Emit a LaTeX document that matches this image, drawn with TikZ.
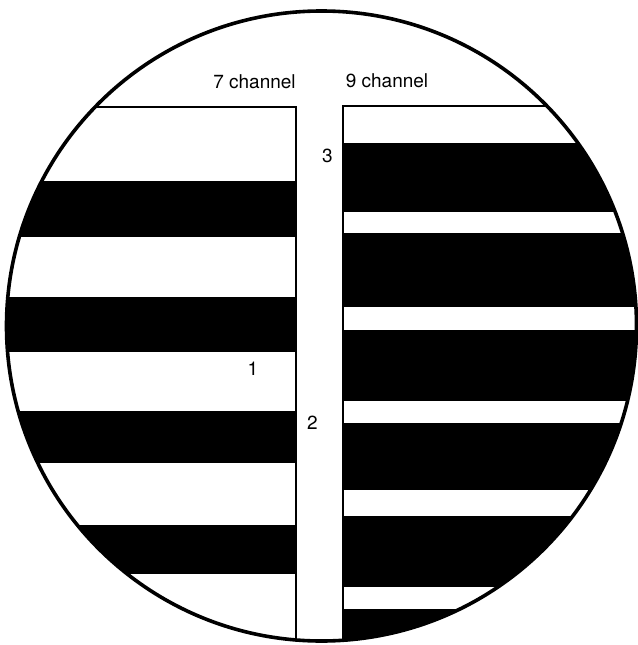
\documentclass[tikz,border=0pt]{standalone}
\usepackage{fontspec}
\setmainfont{TeX Gyre Heros}

\begin{document}
\begin{tikzpicture}[x=1pt, y=-1pt,
      rim/.style={line width=3.6pt},
      edge/.style={line width=2.4pt},
      lab/.style={font=\fontsize{19}{22}\selectfont, anchor=base, inner sep=0pt}
    ]
    \useasboundingbox (0,0) rectangle (637,645);
    \coordinate (O) at (321.5,326);
    \begin{scope}
      \clip (O) circle[radius=315pt];
      % 7 channel side
      \foreach \a/\b in {181/237, 297/352, 411/463, 525/574}
        \fill (0,\a) rectangle (296,\b);
      \draw[edge] (0,107) -- (296,107) -- (296,660);
      % 9 channel side
      \fill (343,143) rectangle (640,660);
      \foreach \a/\b in {212/233, 307/330, 401/423, 490/516, 587/609}
        \fill[white] (343,\a) rectangle (640,\b);
      \draw[edge] (343,660) -- (343,106) -- (640,106);
    \end{scope}
    \draw[rim] (O) circle[radius=315pt];
    \node[lab] (lab7) at (254.5,88) {7 channel};
    \node[lab] (lab9) at (387,87) {9 channel};
    \node[lab] (n1) at (253,375) {1};
    \node[lab] (n2) at (312.5,429) {2};
    \node[lab] (n3) at (327.5,162) {3};
\end{tikzpicture}
\end{document}
